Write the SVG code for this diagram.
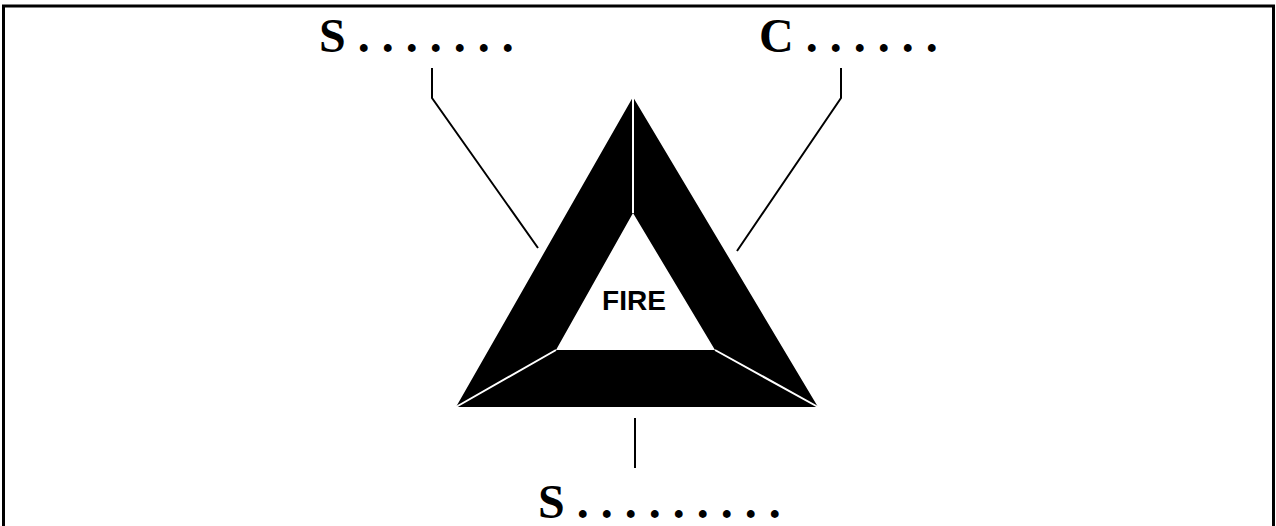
<svg xmlns="http://www.w3.org/2000/svg" width="1276" height="526" viewBox="0 0 1276 526">
<style>
.lbl{font-family:"Liberation Serif","Times New Roman",serif;font-weight:bold;font-size:48px;fill:#000}
.lead{fill:none;stroke:#000;stroke-width:2}
.sep{stroke:#fff;stroke-width:2;fill:none}
</style>
<rect width="1276" height="526" fill="#fff"/>
<path d="M3.5,530 V6 H1273.5 V530" fill="none" stroke="#000" stroke-width="3"/>
<g id="triangle">
<path d="M633,97 L818,407 L456,407 Z M633,213 L556,350 L715,350 Z" fill="#000" fill-rule="evenodd"/>
<path class="sep" d="M633,97 V213 M556,350 L456,407 M715,350 L818,407"/>
<text x="634" y="310" text-anchor="middle" font-family="'Liberation Sans',Arial,sans-serif" font-weight="bold" font-size="28">FIRE</text>
</g>
<g id="label-top-left"><text class="lbl" x="319" y="52">S . . . . . . .</text></g>
<g id="label-top-right"><text class="lbl" x="759" y="52">C . . . . . .</text></g>
<g id="label-bottom"><text class="lbl" x="538" y="518">S . . . . . . . . .</text></g>
<g id="connectors">
<path class="lead" d="M432,68 V98 L538,248"/>
<path class="lead" d="M841,68 V98 L737,251"/>
<path class="lead" d="M635,418 V468"/>
</g>
</svg>
